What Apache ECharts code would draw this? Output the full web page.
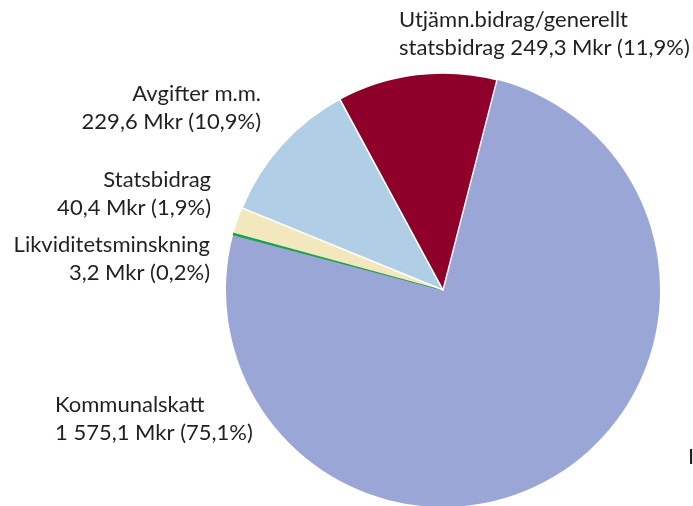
<!DOCTYPE html>
<html>
<head>
<meta charset="utf-8">
<script src="https://cdn.jsdelivr.net/npm/echarts@6/dist/echarts.min.js"></script>
<style>
  html, body { margin: 0; padding: 0; background: #fff; }
  #chart { width: 693px; height: 506px; }
</style>
</head>
<body>
<div id="chart"></div>
<script>
// data (Mkr)
var names = ['Kommunalskatt', 'Likviditetsminskning', 'Statsbidrag', 'Avgifter m.m.', 'Utjämn.bidrag/generellt statsbidrag'];
var values = [1575.1, 3.2, 40.4, 229.6, 249.3];
var labelHeads = ['Kommunalskatt\n', 'Likviditetsminskning\n', 'Statsbidrag\n', 'Avgifter m.m.\n', 'Utjämn.bidrag/generellt\nstatsbidrag '];
var colors = ['#9aa6d6', '#17a046', '#f3e7bd', '#b0cee6', '#8e0029'];

// label placement [x, y, align]
var labelPos = [
  [55, 419, 'left'],
  [210, 259, 'right'],
  [211, 194, 'right'],
  [261, 108, 'right'],
  [399, 34, 'left']
];

var total = values.reduce(function (a, b) { return a + b; }, 0);

function fmt(v) {
  var parts = v.toFixed(1).split('.');
  parts[0] = parts[0].replace(/\B(?=(\d{3})+(?!\d))/g, ' ');
  return parts.join(',');
}

var myChart = echarts.init(document.getElementById('chart'));
var data = [];
for (var i = 0; i < names.length; i++) {
  var item = { name: names[i], value: values[i], itemStyle: { color: colors[i] } };
  if (i >= 3) {
    item.itemStyle.borderColor = '#fff';
    item.itemStyle.borderWidth = 1.5;
  }
  if (i == 1) {
    item.itemStyle.borderColor = colors[i];
    item.itemStyle.borderWidth = 1;
  }
  data.push(item);
}

myChart.setOption({
  animation: false,
  series: [{
    type: 'pie',
    center: [443, 290],
    radius: 217,
    startAngle: 75.6,
    clockwise: true,
    data: data,
    labelLine: { show: false },
    label: {
      show: true,
      position: 'outside',
      overflow: 'none',
      fontFamily: 'Lato',
      fontSize: 22,
      lineHeight: 28,
      color: '#231f20',
      formatter: function (p) {
        var pct = (p.value / total * 100).toFixed(1).replace('.', ',');
        return labelHeads[p.dataIndex] + fmt(p.value) + ' Mkr (' + pct + '%)';
      }
    },
    labelLayout: function (p) {
      var lp = labelPos[p.dataIndex];
      return { x: lp[0], y: lp[1], align: lp[2], verticalAlign: 'middle', hideOverlap: false };
    }
  }],
  graphic: [{
    type: 'text',
    left: 688,
    top: 446,
    style: { text: 'I', fontFamily: 'Lato', fontSize: 22, fill: '#231f20' }
  }]
});
</script>
</body>
</html>
